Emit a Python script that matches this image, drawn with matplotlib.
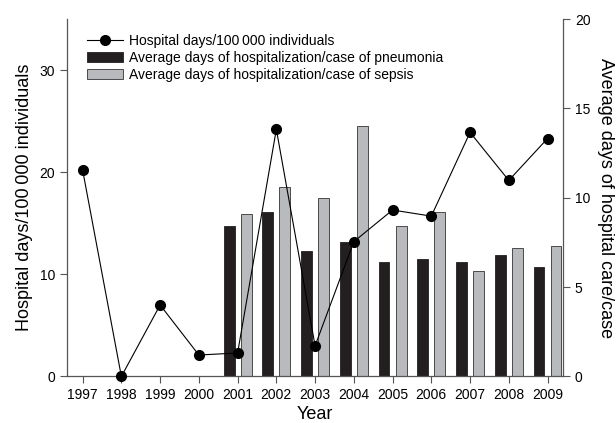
import matplotlib.pyplot as plt
import numpy as np

plt.rcParams['font.family'] = ['Liberation Sans', 'DejaVu Sans']

years = [1997, 1998, 1999, 2000, 2001, 2002, 2003, 2004, 2005, 2006, 2007, 2008, 2009]
hosp_days = [20.2, 0.0, 7.0, 2.1, 2.3, 24.2, 3.0, 13.2, 16.3, 15.7, 23.9, 19.2, 23.3]

bar_years = [2001, 2002, 2003, 2004, 2005, 2006, 2007, 2008, 2009]
pneumonia = [8.4, 9.2, 7.0, 7.5, 6.4, 6.6, 6.4, 6.8, 6.1]
sepsis = [9.1, 10.6, 10.0, 14.0, 8.4, 9.2, 5.9, 7.2, 7.3]

spine_col = '#555555'

fig = plt.figure(figsize=(6.16, 4.23), dpi=100)
ax1 = fig.add_axes([0.109, 0.110, 0.805, 0.845])
ax2 = ax1.twinx()

bx = np.array(bar_years)
b1 = ax2.bar(bx - 0.22, pneumonia, width=0.28, color='#231f20', edgecolor='#231f20', linewidth=0.6)
b2 = ax2.bar(bx + 0.22, sepsis, width=0.28, color='#b9babd', edgecolor='#333333', linewidth=0.6)

ln, = ax1.plot(years, hosp_days, color='black', linewidth=0.8, marker='o',
               markersize=7, markerfacecolor='black', clip_on=False, zorder=5)

# line sits on top of the bars
ax1.set_zorder(ax2.get_zorder() + 1)
ax1.patch.set_visible(False)

ax1.set_xlim(1996.6, 2009.4)
ax1.set_ylim(0, 35)
ax2.set_ylim(0, 20)
ax1.set_xticks(years)
ax1.set_yticks([0, 10, 20, 30])
ax2.set_yticks([0, 5, 10, 15, 20])

for ax in (ax1, ax2):
    ax.spines['top'].set_visible(False)
    for s in ('left', 'right', 'bottom'):
        ax.spines[s].set_color(spine_col)
        ax.spines[s].set_linewidth(0.9)
    ax.tick_params(direction='out', length=5, width=0.8, color=spine_col, labelsize=10)
ax1.spines['right'].set_visible(False)
ax2.spines['left'].set_visible(False)
ax2.spines['bottom'].set_visible(False)

ax1.set_xlabel('Year', fontsize=13, labelpad=3)
ax1.set_ylabel('Hospital days/100\u2009000 individuals', fontsize=13, labelpad=5)
ax2.set_ylabel('Average days of hospital care/case', fontsize=13, rotation=270, labelpad=17)

ax1.legend([ln, b1, b2],
           ['Hospital days/100\u2009000 individuals',
            'Average days of hospitalization/case of pneumonia',
            'Average days of hospitalization/case of sepsis'],
           loc='upper left', bbox_to_anchor=(0.02, 0.985), frameon=False, fontsize=10,
           handlelength=2.6, handletextpad=0.45, labelspacing=0.2, borderpad=0.2)

fig.savefig('out.png', dpi=100)
